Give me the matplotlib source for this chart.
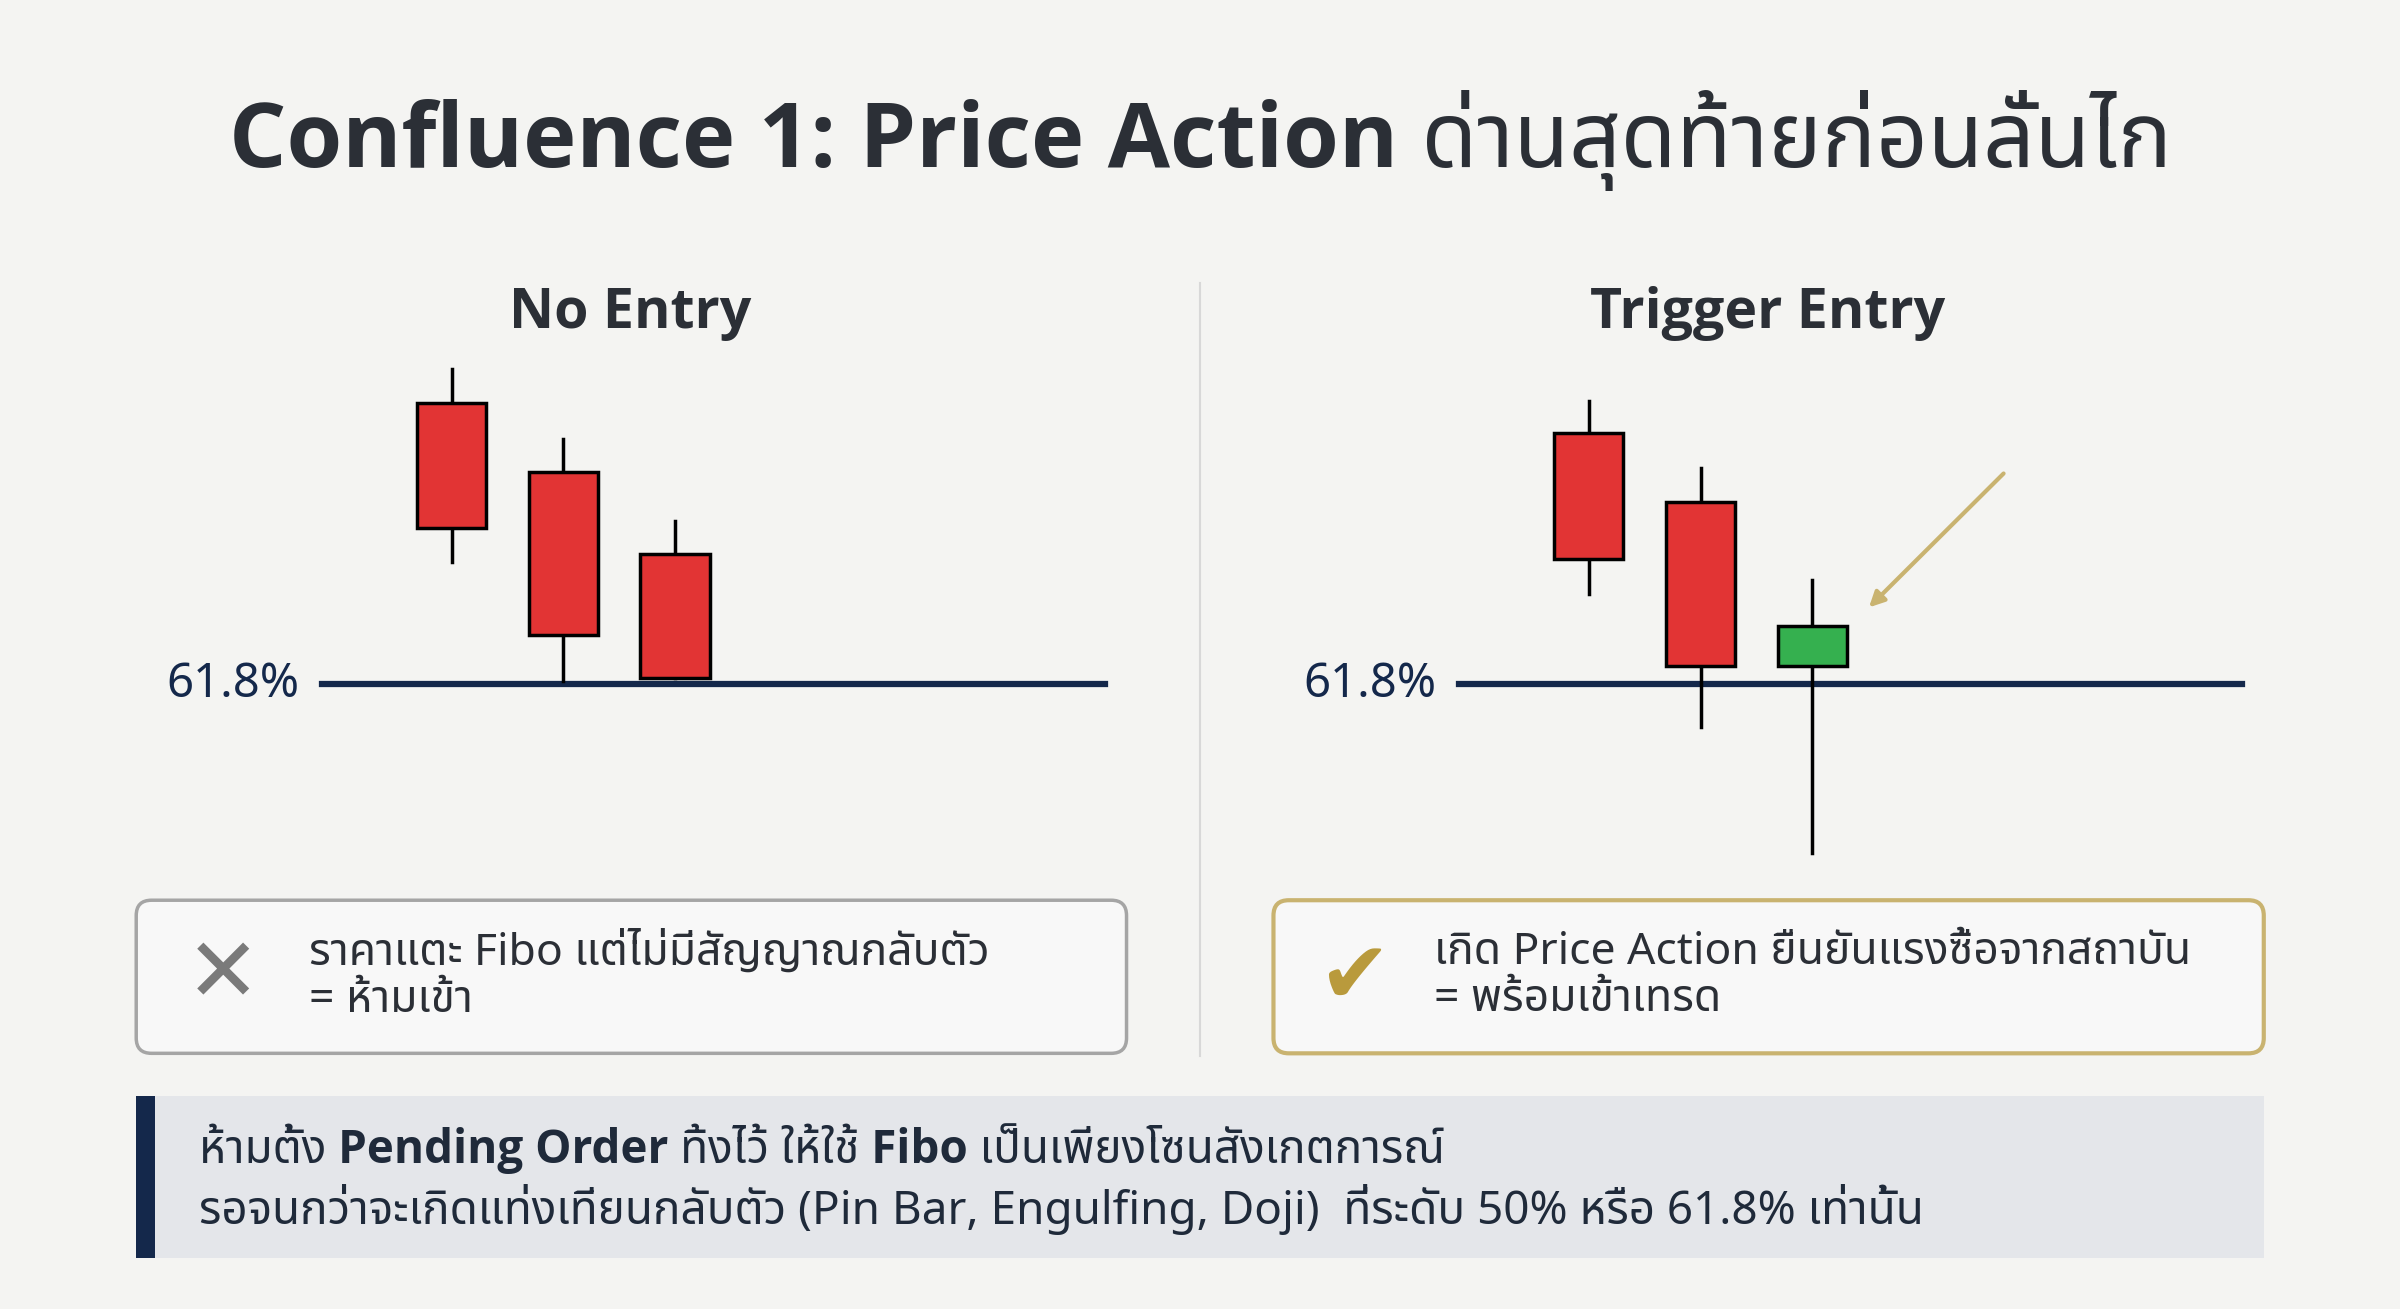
import matplotlib
matplotlib.use("Agg")
import matplotlib.pyplot as plt
from matplotlib.patches import FancyBboxPatch, Rectangle
from matplotlib import font_manager as fm

names = {f.name for f in fm.fontManager.ttflist}
thai = [n for n in ["Noto Sans Thai", "Noto Sans Thai UI", "Sarabun", "Loma", "Garuda", "Kinnari", "Tlwg Typo", "Waree", "Norasi"] if n in names]
FAM = ["Noto Sans"] + thai + ["DejaVu Sans"]
FAMB = ["Open Sans"] + thai + ["DejaVu Sans"]
plt.rcParams['font.family'] = FAM

title = "Confluence 1: Price Action ด่านสุดท้ายก่อนลั่นไก"
panel_titles = ["No Entry", "Trigger Entry"]
level_label = "61.8%"
# candles: (open, close, high, low) in chart price units
left_candles = [(107, 86.5, 112.5, 81), (95.75, 69, 101, 61.5), (82.25, 62, 87.75, 62)]
right_candles = [(102, 81.5, 107.25, 75.75), (90.75, 64, 96.25, 54), (64, 70.5, 78, 33.5)]
level = 61
box_texts = ["ราคาแตะ Fibo แต่ไม่มีสัญญาณกลับตัว\n= ห้ามเข้า",
             "เกิด Price Action ยืนยันแรงซื้อจากสถาบัน\n= พร้อมเข้าเทรด"]
banner1 = "ห้ามตั้ง Pending Order ทิ้งไว้ ให้ใช้ Fibo เป็นเพียงโซนสังเกตการณ์"
banner2 = "รอจนกว่าจะเกิดแท่งเทียนกลับตัว (Pin Bar, Engulfing, Doji)  ที่ระดับ 50% หรือ 61.8% เท่านั้น"

BG = "#f4f4f2"; NAVY = "#14284b"; RED = "#e23434"; GREEN = "#35b04f"; GOLD = "#c9b370"
fig = plt.figure(figsize=(24, 13.09), dpi=100, facecolor=BG)
bg = fig.add_axes([0, 0, 1, 1]); bg.set_xlim(0, 1568); bg.set_ylim(855, 0); bg.axis('off')

bg.text(784, 92, title, ha='center', va='center', fontsize=65, fontweight='bold', color="#2b2f36", family=FAMB)
bg.plot([784, 784], [185, 690], color="#d8d8d8", lw=1.5)

U = 73.0; K = 4.0
def panel(c0, tx, candles, ptitle, green_last, arrow):
    bg.text(tx, 205, ptitle, ha='center', va='center', fontsize=40, fontweight='bold', color="#2b2f36", family=FAMB)
    a0, a1, t0, t1 = c0 - 145, c0 + 485, 230, 580
    ax = fig.add_axes([a0 / 1568, 1 - t1 / 855, (a1 - a0) / 1568, (t1 - t0) / 855])
    ax.set_xlim((a0 - c0) / U, (a1 - c0) / U)
    ax.set_ylim(level - (t1 - 447) / K, level + (447 - t0) / K)
    ax.axis('off')
    ax.plot([-1.16, 5.85], [level, level], color=NAVY, lw=4.5, zorder=1)
    ax.text(-1.36, level, level_label, ha='right', va='center', fontsize=34, color=NAVY)
    for i, (o, c, h, l) in enumerate(candles):
        col = GREEN if (green_last and i == len(candles) - 1) else RED
        ax.plot([i, i], [l, h], color="black", lw=2.5, zorder=2)
        ax.add_patch(Rectangle((i - 0.31, min(o, c)), 0.62, abs(o - c), facecolor=col, edgecolor="black", lw=2.5, zorder=3))
    if arrow:
        ax.annotate("", xy=(2.49, 73.25), xytext=(3.73, 95.75),
                    arrowprops=dict(arrowstyle="-|>,head_length=0.9,head_width=0.45", color=GOLD, lw=3))

panel(295, 412, left_candles, panel_titles[0], False, False)
panel(1038, 1155, right_candles, panel_titles[1], True, True)

bg.add_patch(FancyBboxPatch((89, 588), 647, 100, boxstyle="round,pad=0,rounding_size=10", facecolor="#f8f8f8", edgecolor="#a5a5a5", lw=2.5))
bg.add_patch(FancyBboxPatch((832, 588), 647, 100, boxstyle="round,pad=0,rounding_size=10", facecolor="#f8f8f8", edgecolor=GOLD, lw=3))
bg.text(146, 638, "✕", ha='center', va='center', fontsize=64, color="#7a7a7a", family="DejaVu Sans")
bg.text(885, 640, "✔", ha='center', va='center', fontsize=62, color="#b99a3c", family="DejaVu Sans")
bg.text(202, 638, box_texts[0], ha='left', va='center', fontsize=32, color="#2b2f36", linespacing=1.1)
bg.text(937, 638, box_texts[1], ha='left', va='center', fontsize=32, color="#2b2f36", linespacing=1.1)

bg.add_patch(Rectangle((89, 716), 1390, 106, facecolor="#e4e6ea", edgecolor='none'))
bg.add_patch(Rectangle((89, 716), 12, 106, facecolor=NAVY, edgecolor='none'))
bg.text(130, 750, banner1, ha='left', va='center', fontsize=33, fontweight='bold', color="#1f2a3a", family=FAMB)
bg.text(130, 790, banner2, ha='left', va='center', fontsize=33, color="#1f2a3a")

fig.savefig("out.png", dpi=100, facecolor=BG)
